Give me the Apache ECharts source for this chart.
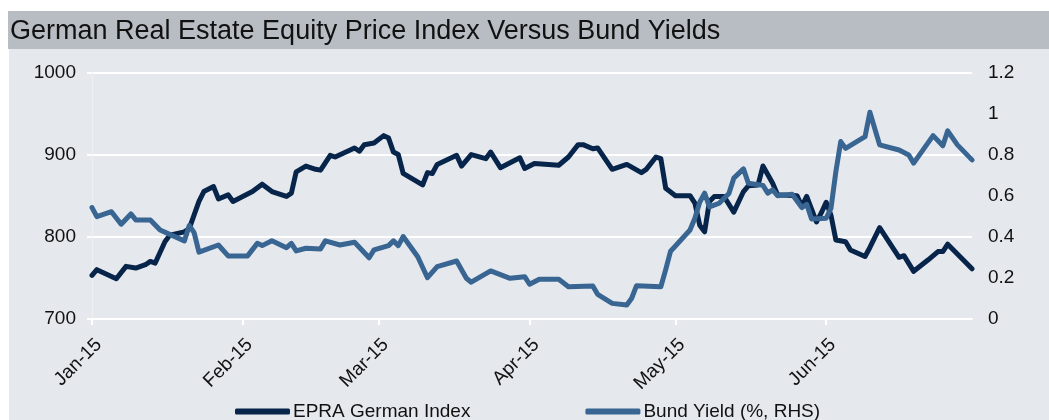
<!DOCTYPE html>
<html lang="en">
<head>
<meta charset="utf-8">
<title>German Real Estate Equity Price Index Versus Bund Yields</title>
<script src="https://cdn.jsdelivr.net/npm/echarts@6/dist/echarts.min.js"></script>
<style>
  html, body { margin: 0; padding: 0; background: #ffffff; }
  #chart { width: 1049px; height: 420px; }
</style>
</head>
<body>
<div id="chart"></div>
<script>
/**
 * 德国房地产股价指数 vs 国债收益率
 */

// 数据
const epraDates = [
  '2015-01-01', '2015-01-02', '2015-01-06', '2015-01-08', '2015-01-10', '2015-01-12',
  '2015-01-13', '2015-01-14', '2015-01-16', '2015-01-17', '2015-01-20', '2015-01-21',
  '2015-01-23', '2015-01-24', '2015-01-26', '2015-01-27', '2015-01-29', '2015-01-30',
  '2015-02-03', '2015-02-05', '2015-02-07', '2015-02-10', '2015-02-11', '2015-02-12',
  '2015-02-14', '2015-02-16', '2015-02-17', '2015-02-19', '2015-02-20', '2015-02-24',
  '2015-02-25', '2015-02-26', '2015-02-28', '2015-03-02', '2015-03-03', '2015-03-04',
  '2015-03-05', '2015-03-06', '2015-03-10', '2015-03-11', '2015-03-12', '2015-03-13',
  '2015-03-17', '2015-03-18', '2015-03-20', '2015-03-23', '2015-03-24', '2015-03-26',
  '2015-03-30', '2015-03-31', '2015-04-02', '2015-04-07', '2015-04-09', '2015-04-11',
  '2015-04-12', '2015-04-14', '2015-04-15', '2015-04-18', '2015-04-21', '2015-04-24',
  '2015-04-25', '2015-04-27', '2015-04-28', '2015-04-29', '2015-05-01', '2015-05-04',
  '2015-05-05', '2015-05-06', '2015-05-07', '2015-05-08', '2015-05-09', '2015-05-11',
  '2015-05-13', '2015-05-15', '2015-05-16', '2015-05-18', '2015-05-19', '2015-05-21',
  '2015-05-22', '2015-05-26', '2015-05-27', '2015-05-28', '2015-05-30', '2015-05-31',
  '2015-06-01', '2015-06-02', '2015-06-03', '2015-06-05', '2015-06-06', '2015-06-09',
  '2015-06-10', '2015-06-12', '2015-06-16', '2015-06-17', '2015-06-19', '2015-06-22',
  '2015-06-24', '2015-06-25', '2015-06-26', '2015-07-01'
];
const epraValues = [
  753, 760, 749, 764, 762, 766,
  770, 768, 794, 802, 806, 810,
  843, 855, 861, 846, 851, 843,
  855, 864, 855, 849, 853, 879,
  886, 882, 881, 899, 897, 908,
  904, 912, 914, 923, 920, 903,
  900, 877, 863, 878, 877, 888,
  899, 886, 900, 895, 903, 884,
  896, 883, 889, 887, 897, 912,
  912, 907, 908, 882, 888, 878,
  882, 897, 895, 859, 850, 850,
  841, 814, 806, 843, 849, 849,
  830, 855, 862, 863, 886, 865,
  851, 850, 837, 849, 818, 829,
  842, 826, 796, 794, 784, 776,
  787, 811, 775, 777, 758, 772,
  782, 782, 791, 761
];

const bundDates = [
  '2015-01-01', '2015-01-02', '2015-01-05', '2015-01-07', '2015-01-09', '2015-01-10',
  '2015-01-13', '2015-01-15', '2015-01-20', '2015-01-21', '2015-01-22', '2015-01-23',
  '2015-01-27', '2015-01-29', '2015-02-02', '2015-02-04', '2015-02-05', '2015-02-07',
  '2015-02-10', '2015-02-11', '2015-02-12', '2015-02-14', '2015-02-17', '2015-02-18',
  '2015-02-21', '2015-02-24', '2015-02-27', '2015-02-28', '2015-03-03', '2015-03-04',
  '2015-03-05', '2015-03-06', '2015-03-09', '2015-03-11', '2015-03-13', '2015-03-17',
  '2015-03-19', '2015-03-20', '2015-03-24', '2015-03-28', '2015-03-31', '2015-04-01',
  '2015-04-03', '2015-04-07', '2015-04-09', '2015-04-14', '2015-04-15', '2015-04-18',
  '2015-04-21', '2015-04-22', '2015-04-23', '2015-04-28', '2015-04-29', '2015-04-30',
  '2015-05-01', '2015-05-04', '2015-05-05', '2015-05-06', '2015-05-07', '2015-05-08',
  '2015-05-10', '2015-05-12', '2015-05-13', '2015-05-15', '2015-05-16', '2015-05-19',
  '2015-05-20', '2015-05-21', '2015-05-22', '2015-05-25', '2015-05-27', '2015-05-28',
  '2015-05-29', '2015-06-01', '2015-06-02', '2015-06-03', '2015-06-04', '2015-06-05',
  '2015-06-09', '2015-06-10', '2015-06-12', '2015-06-16', '2015-06-18', '2015-06-19',
  '2015-06-23', '2015-06-25', '2015-06-26', '2015-06-28', '2015-07-01'
];
const bundValues = [
  0.542, 0.498, 0.522, 0.461, 0.511, 0.482,
  0.482, 0.433, 0.380, 0.455, 0.420, 0.325,
  0.360, 0.307, 0.307, 0.368, 0.357, 0.381,
  0.347, 0.368, 0.331, 0.344, 0.341, 0.380,
  0.360, 0.373, 0.298, 0.336, 0.357, 0.380,
  0.357, 0.401, 0.303, 0.201, 0.255, 0.282,
  0.198, 0.179, 0.234, 0.198, 0.206, 0.169,
  0.193, 0.193, 0.157, 0.161, 0.120, 0.076,
  0.068, 0.101, 0.162, 0.157, 0.240, 0.330,
  0.355, 0.433, 0.490, 0.568, 0.612, 0.545,
  0.563, 0.610, 0.685, 0.730, 0.660, 0.650,
  0.612, 0.628, 0.600, 0.607, 0.542, 0.558,
  0.487, 0.490, 0.539, 0.717, 0.863, 0.830,
  0.887, 1.006, 0.847, 0.822, 0.798, 0.758,
  0.892, 0.843, 0.915, 0.847, 0.774
];

// 坐标轴刻度
const leftTicks = { min: 700, max: 1000, interval: 100 };
const rightTicks = { min: 0, max: 1.2, interval: 0.2 };
const monthNames = ['Jan', 'Feb', 'Mar', 'Apr', 'May', 'Jun', 'Jul', 'Aug', 'Sep', 'Oct', 'Nov', 'Dec'];

const seriesNames = ['EPRA German Index', 'Bund Yield (%, RHS)'];
const FONT = '"Liberation Sans", Arial, sans-serif';
const DAY = 24 * 3600 * 1000;

let mainChart = null;

document.addEventListener('DOMContentLoaded', function() {
  initChart();
});

/**
 * 组合成 [日期, 值] 数组
 */
function zipSeries(dates, values) {
  return dates.map((d, i) => [d, values[i]]);
}

/**
 * 初始化图表
 */
function initChart() {
  const container = document.getElementById('chart');
  mainChart = echarts.init(container, null, { renderer: 'canvas' });

  const option = {
    animation: false,
    backgroundColor: '#ffffff',
    textStyle: { fontFamily: FONT },
    // 标题栏和灰色背景
    graphic: [
      {
        type: 'rect', z: -10, silent: true,
        shape: { x: 8, y: 11, width: 1041, height: 38 },
        style: { fill: '#b7bdc3' }
      },
      {
        type: 'rect', z: -10, silent: true,
        shape: { x: 9, y: 49, width: 1040, height: 371 },
        style: { fill: '#e5e8ec' }
      }
    ],
    title: {
      text: 'German Real Estate Equity Price Index Versus Bund Yields',
      left: 10,
      top: 18,
      padding: 0,
      textStyle: { fontFamily: FONT, fontSize: 27, fontWeight: 'normal', color: '#111111' }
    },
    legend: {
      data: seriesNames,
      left: 230,
      top: 397,
      icon: 'roundRect',
      itemWidth: 55,
      itemHeight: 6,
      itemGap: 115,
      textStyle: { fontFamily: FONT, fontSize: 19, color: '#111111', padding: [0, 0, 0, -2] }
    },
    grid: {
      left: 92,
      right: 77,
      top: 72.3,
      bottom: 101,
      containLabel: false
    },
    xAxis: {
      type: 'time',
      min: '2015-01-01',
      max: '2015-07-01',
      minInterval: 28 * DAY,
      maxInterval: 31 * DAY,
      axisLine: { show: true, lineStyle: { color: '#ffffff', width: 2 } },
      axisTick: { show: true, length: 6, lineStyle: { color: '#ffffff', width: 2 } },
      splitLine: { show: false },
      axisLabel: {
        rotate: 45,
        margin: 16,
        verticalAlign: 'top',
        showMaxLabel: false,
        fontFamily: FONT,
        fontSize: 19,
        color: '#111111',
        formatter: function(value) {
          const d = new Date(value);
          return monthNames[d.getMonth()] + '-' + String(d.getFullYear()).slice(2);
        }
      }
    },
    yAxis: [
      {
        type: 'value',
        min: leftTicks.min,
        max: leftTicks.max,
        interval: leftTicks.interval,
        axisLine: { show: true, lineStyle: { color: '#eef0f3', width: 1 } },
        axisTick: { show: true, length: 5, lineStyle: { color: '#ffffff', width: 2 } },
        splitLine: { show: true, lineStyle: { color: '#ffffff', width: 2 } },
        axisLabel: {
          margin: 16, fontFamily: FONT, fontSize: 19, color: '#111111',
          formatter: (v) => String(v)
        }
      },
      {
        type: 'value',
        position: 'right',
        min: rightTicks.min,
        max: rightTicks.max,
        interval: rightTicks.interval,
        axisLine: { show: false },
        axisTick: { show: false },
        splitLine: { show: false },
        axisLabel: { margin: 16, fontFamily: FONT, fontSize: 19, color: '#111111' }
      }
    ],
    series: [
      {
        name: seriesNames[0],
        type: 'line',
        yAxisIndex: 0,
        data: zipSeries(epraDates, epraValues),
        showSymbol: false,
        symbol: 'none',
        color: '#07244a',
        lineStyle: { width: 5, color: '#07244a', cap: 'round', join: 'round' },
        z: 3
      },
      {
        name: seriesNames[1],
        type: 'line',
        yAxisIndex: 1,
        data: zipSeries(bundDates, bundValues),
        showSymbol: false,
        symbol: 'none',
        color: '#386592',
        lineStyle: { width: 5, color: '#386592', cap: 'round', join: 'round' },
        z: 4
      }
    ]
  };

  mainChart.setOption(option);

  window.addEventListener('resize', () => {
    mainChart.resize();
  });
}
</script>
</body>
</html>
